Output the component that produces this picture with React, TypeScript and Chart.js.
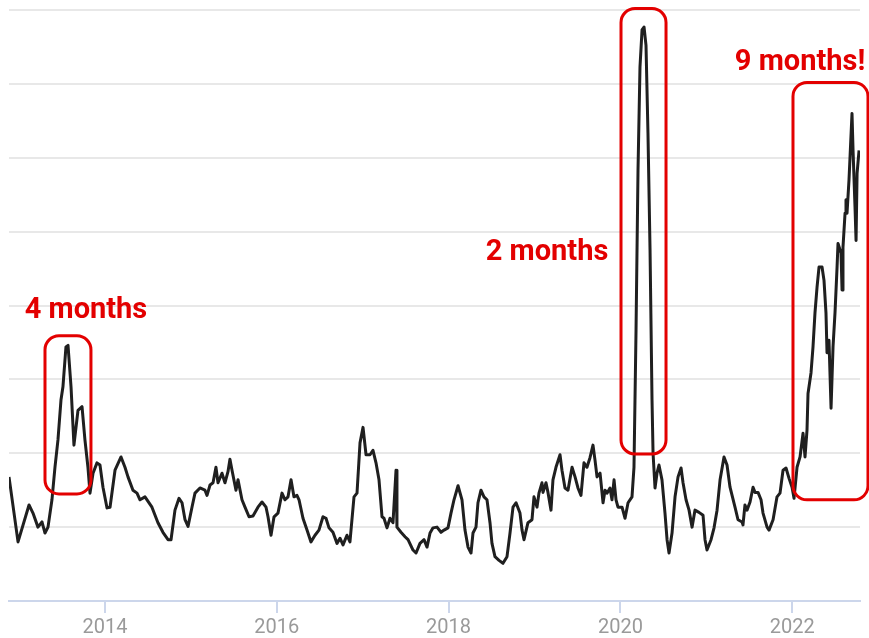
import React, { useEffect, useRef } from 'react';
import { Chart, registerables } from 'chart.js';

Chart.register(...registerables);

// ---- Data (decimal year, index value) ----
const dates = [
  2012.883, 2012.988, 2013.116, 2013.162, 2013.220, 2013.267, 2013.302, 2013.337, 2013.383, 2013.418,
  2013.453, 2013.488, 2013.511, 2013.546, 2013.570, 2013.605, 2013.639, 2013.686, 2013.733, 2013.767,
  2013.802, 2013.826, 2013.861, 2013.907, 2013.942, 2013.977, 2014.024, 2014.059, 2014.117, 2014.187,
  2014.233, 2014.268, 2014.326, 2014.373, 2014.408,
  2014.466, 2014.547, 2014.617, 2014.675, 2014.734, 2014.769, 2014.815, 2014.862, 2014.897, 2014.932,
  2014.967, 2015.013, 2015.048, 2015.106, 2015.164, 2015.188, 2015.223, 2015.258, 2015.292, 2015.316,
  2015.362, 2015.397, 2015.432, 2015.455, 2015.479, 2015.525, 2015.549, 2015.595, 2015.630, 2015.677,
  2015.723, 2015.781, 2015.828, 2015.875, 2015.898, 2015.933, 2015.968, 2016.014, 2016.061, 2016.096,
  2016.131, 2016.166, 2016.200,
  2016.235, 2016.259, 2016.305, 2016.352, 2016.398, 2016.445, 2016.491, 2016.538, 2016.573, 2016.608,
  2016.654, 2016.701, 2016.736, 2016.771, 2016.817, 2016.852, 2016.899, 2016.934, 2016.969, 2017.004,
  2017.039, 2017.085, 2017.120, 2017.155, 2017.190, 2017.225, 2017.248, 2017.283, 2017.318, 2017.353,
  2017.388, 2017.399, 2017.446, 2017.493, 2017.528, 2017.586, 2017.621, 2017.667, 2017.714, 2017.749,
  2017.784, 2017.819, 2017.865,
  2017.912, 2017.947, 2017.993, 2018.028, 2018.063, 2018.110, 2018.156, 2018.191, 2018.226, 2018.261,
  2018.284, 2018.319, 2018.342, 2018.377, 2018.412, 2018.447, 2018.482, 2018.505, 2018.540, 2018.587,
  2018.633, 2018.680, 2018.715, 2018.750, 2018.785, 2018.831, 2018.855, 2018.878, 2018.924, 2018.971,
  2018.994, 2019.029, 2019.052, 2019.087, 2019.099, 2019.134, 2019.157, 2019.192, 2019.215, 2019.250,
  2019.297, 2019.320, 2019.355, 2019.390, 2019.437, 2019.472, 2019.506, 2019.541,
  2019.576, 2019.611, 2019.646, 2019.681, 2019.704, 2019.728, 2019.763, 2019.798, 2019.821, 2019.844,
  2019.879, 2019.902, 2019.926, 2019.949, 2019.972, 2020.019, 2020.054, 2020.089, 2020.135, 2020.158,
  2020.182, 2020.205, 2020.228, 2020.252, 2020.275, 2020.298, 2020.321, 2020.345, 2020.368, 2020.380,
  2020.403, 2020.426, 2020.449, 2020.484, 2020.519, 2020.543, 2020.566, 2020.601, 2020.636, 2020.671,
  2020.706, 2020.729, 2020.764, 2020.799, 2020.834, 2020.868, 2020.915, 2020.962, 2020.985, 2021.008,
  2021.055, 2021.090, 2021.125, 2021.160, 2021.206, 2021.241, 2021.276,
  2021.334, 2021.369, 2021.416, 2021.427, 2021.450, 2021.474, 2021.509, 2021.544, 2021.567, 2021.602,
  2021.637, 2021.660, 2021.707, 2021.730, 2021.777, 2021.823, 2021.858, 2021.893, 2021.928, 2021.963,
  2021.998, 2022.021, 2022.056, 2022.091, 2022.126, 2022.149, 2022.172, 2022.184, 2022.219, 2022.242,
  2022.265, 2022.289, 2022.312, 2022.347, 2022.370, 2022.393, 2022.405, 2022.428, 2022.452, 2022.475,
  2022.498, 2022.522, 2022.533, 2022.568, 2022.580, 2022.591, 2022.615, 2022.626, 2022.638, 2022.661,
  2022.696, 2022.708, 2022.731, 2022.743, 2022.755, 2022.778,
];

const values = [
  1.68, 0.80, 1.30, 1.19, 1.00, 1.07, 0.92, 1.00, 1.37, 1.81,
  2.18, 2.72, 2.90, 3.44, 3.46, 2.90, 2.11, 2.58, 2.63, 2.18,
  1.81, 1.46, 1.73, 1.87, 1.84, 1.54, 1.26, 1.27, 1.77, 1.95,
  1.81, 1.68, 1.50, 1.46, 1.37,
  1.41, 1.27, 1.06, 0.93, 0.83, 0.83, 1.23, 1.39, 1.33, 1.10,
  1.01, 1.27, 1.46, 1.53, 1.50, 1.43, 1.57, 1.60, 1.81, 1.60,
  1.73, 1.60, 1.75, 1.92, 1.77, 1.50, 1.64, 1.37, 1.27, 1.14,
  1.15, 1.27, 1.34, 1.27, 1.14, 0.89, 1.14, 1.19, 1.46, 1.37,
  1.41, 1.64, 1.41,
  1.43, 1.37, 1.12, 0.96, 0.80, 0.89, 0.96, 1.14, 1.12, 0.99,
  0.93, 0.78, 0.85, 0.76, 0.89, 0.80, 1.41, 1.46, 2.14, 2.35,
  1.98, 1.98, 2.04, 1.87, 1.64, 1.14, 1.12, 0.99, 1.12, 1.06,
  1.77, 1.00, 0.93, 0.87, 0.83, 0.69, 0.65, 0.78, 0.83, 0.73,
  0.92, 0.99, 1.00,
  0.93, 0.96, 0.99, 1.19, 1.37, 1.56, 1.37, 0.96, 0.73, 0.65,
  0.92, 1.00, 1.33, 1.50, 1.41, 1.37, 1.06, 0.78, 0.60, 0.55,
  0.51, 0.60, 0.92, 1.27, 1.33, 1.19, 0.96, 0.83, 1.06, 1.10,
  1.41, 1.27, 1.46, 1.60, 1.47, 1.60, 1.47, 1.23, 1.64, 1.81,
  1.98, 1.77, 1.53, 1.50, 1.81, 1.68, 1.53, 1.43,
  1.87, 1.81, 1.94, 2.11, 1.91, 1.68, 1.73, 1.33, 1.50, 1.46,
  1.53, 1.37, 1.64, 1.37, 1.27, 1.27, 1.12, 1.33, 1.41, 1.81,
  3.67, 5.83, 7.23, 7.73, 7.77, 7.52, 6.33, 4.75, 2.72, 2.00,
  1.53, 1.73, 1.84, 1.64, 1.19, 0.83, 0.65, 0.92, 1.41, 1.68,
  1.80, 1.60, 1.37, 1.23, 1.00, 1.23, 1.20, 1.16, 0.83, 0.69,
  0.83, 0.99, 1.23, 1.64, 1.95, 1.84, 1.54,
  1.27, 1.10, 1.07, 1.03, 1.30, 1.23, 1.34, 1.54, 1.47, 1.47,
  1.37, 1.19, 1.00, 0.96, 1.10, 1.41, 1.46, 1.77, 1.80, 1.66,
  1.54, 1.39, 1.81, 1.95, 2.27, 1.95, 2.31, 2.81, 3.09, 3.44,
  3.90, 4.25, 4.52, 4.52, 4.34, 3.90, 3.36, 3.53, 2.61, 3.44,
  3.90, 4.52, 4.84, 4.71, 4.21, 4.79, 5.25, 5.43, 5.25, 5.70,
  6.60, 6.10, 5.33, 4.88, 5.79, 6.10,
];

const tickYears = [2014, 2016, 2018, 2020, 2022];
const tickLabels = ['2014', '2016', '2018', '2020', '2022'];

const xMin = 2012.883;
const xMax = 2022.789;
const yMin = 0;
const yMax = 8;

// Callouts (in data units)
const calloutLabels = ['4 months', '2 months', '9 months!'];
const calloutTextX = [2013.779, 2019.146, 2022.091];
const calloutTextY = [3.83, 4.61, 7.19];
const boxX0 = [2013.302, 2020.007, 2022.009];
const boxX1 = [2013.837, 2020.531, 2022.882];
const boxY0 = [1.45, 1.99, 1.37];
const boxY1 = [3.59, 8.02, 7.02];

const RED = '#e30000';

const calloutPlugin = {
  id: 'callouts',
  afterDatasetsDraw(chart: any) {
    const { ctx } = chart;
    const xs = chart.scales.x;
    const ys = chart.scales.y;
    ctx.save();
    ctx.strokeStyle = RED;
    ctx.lineWidth = 3;
    for (let i = 0; i < boxX0.length; i++) {
      const l = xs.getPixelForValue(boxX0[i]);
      const r = xs.getPixelForValue(boxX1[i]);
      const t = ys.getPixelForValue(boxY1[i]);
      const b = ys.getPixelForValue(boxY0[i]);
      ctx.beginPath();
      ctx.roundRect(l, t, r - l, b - t, 14);
      ctx.stroke();
    }
    ctx.fillStyle = RED;
    ctx.font = 'bold 29px Roboto, "DejaVu Sans", sans-serif';
    ctx.textAlign = 'center';
    ctx.textBaseline = 'alphabetic';
    for (let i = 0; i < calloutLabels.length; i++) {
      ctx.fillText(
        calloutLabels[i],
        xs.getPixelForValue(calloutTextX[i]),
        ys.getPixelForValue(calloutTextY[i])
      );
    }
    ctx.restore();
  },
};

export default function App() {
  const canvasRef = useRef<HTMLCanvasElement | null>(null);

  useEffect(() => {
    if (!canvasRef.current) return;
    const chart = new Chart(canvasRef.current, {
      type: 'line',
      data: {
        datasets: [
          {
            data: dates.map((d, i) => ({ x: d, y: values[i] })),
            borderColor: '#1f1f1f',
            borderWidth: 3,
            pointRadius: 0,
            tension: 0,
            borderJoinStyle: 'round',
            fill: false,
          },
        ],
      },
      options: {
        animation: false,
        responsive: false,
        devicePixelRatio: 1,
        layout: { padding: { left: 9, right: 9, top: 10, bottom: 0 } },
        plugins: { legend: { display: false }, tooltip: { enabled: false } },
        scales: {
          x: {
            type: 'linear',
            min: xMin,
            max: xMax,
            afterBuildTicks: (s: any) => {
              s.ticks = tickYears.map((v) => ({ value: v }));
            },
            afterFit: (s: any) => {
              s.height = 37;
            },
            ticks: {
              autoSkip: false,
              maxRotation: 0,
              padding: 3,
              color: '#9a9a9a',
              font: { size: 20, family: 'Roboto, "DejaVu Sans", sans-serif' },
              callback: (v: any, i: number) => tickLabels[i] ?? String(v),
            },
            grid: {
              display: true,
              drawOnChartArea: false,
              drawTicks: true,
              tickLength: 12,
              color: '#ccd6eb',
              lineWidth: 2,
            },
            border: { display: true, color: '#ccd6eb', width: 2 },
          },
          y: {
            min: yMin,
            max: yMax,
            afterFit: (s: any) => {
              s.width = 0;
            },
            ticks: { display: false, stepSize: 1 },
            grid: { color: '#e8e8e8', lineWidth: 2, drawTicks: false },
            border: { display: false },
          },
        },
      },
      plugins: [calloutPlugin],
    } as any);
    return () => chart.destroy();
  }, []);

  return (
    <div style={{ position: 'absolute', left: 0, top: 0, width: 869, height: 638, background: '#fff' }}>
      <canvas ref={canvasRef} width={869} height={638} />
    </div>
  );
}
